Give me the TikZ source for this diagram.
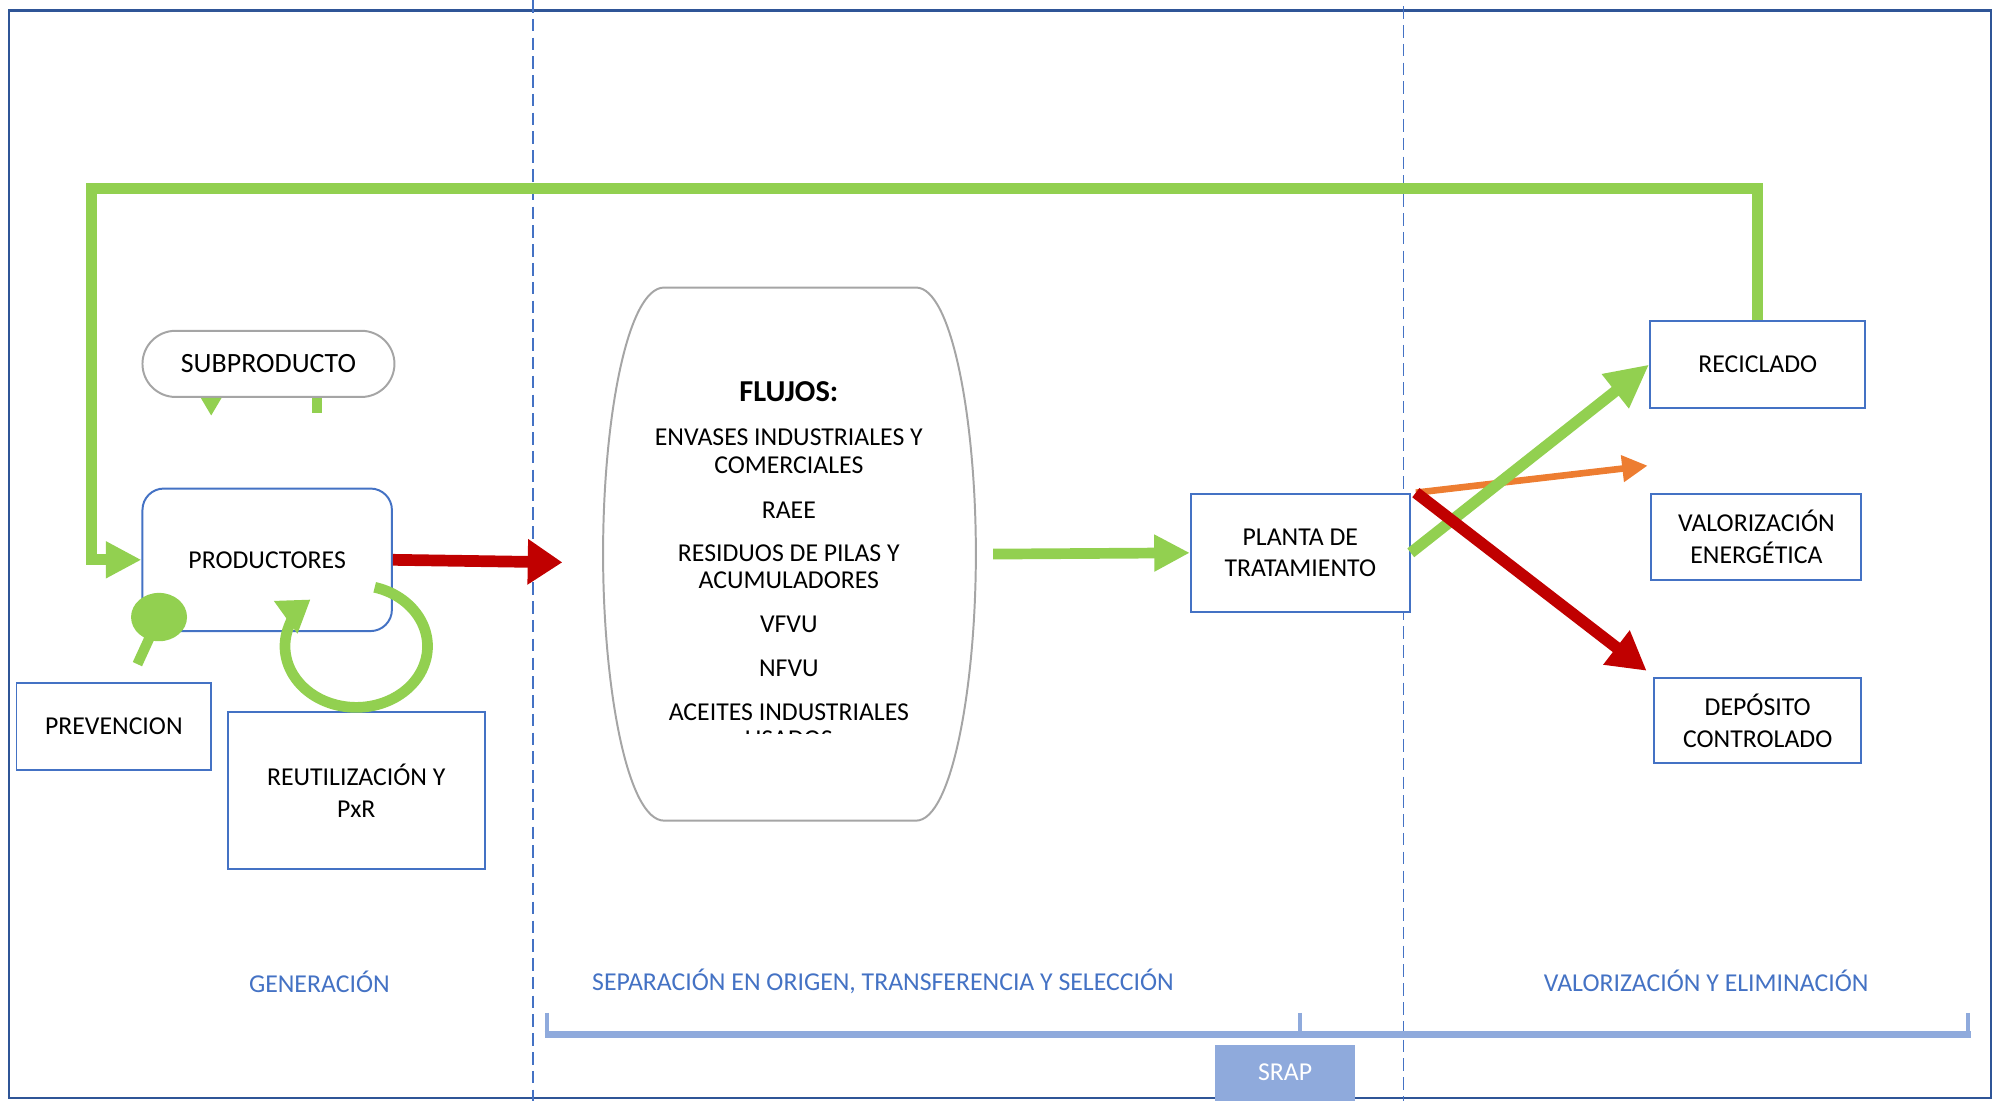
\documentclass[tikz,border=0pt]{standalone}
\usepackage{fontspec}
\setmainfont{Carlito}
\usepackage{xcolor}
\usepackage{tikz}
\usetikzlibrary{arrows.meta,positioning,shapes.misc}
\definecolor{verde}{HTML}{92D050}
\definecolor{rojo}{HTML}{C00000}
\definecolor{naranja}{HTML}{ED7D31}
\definecolor{azul}{HTML}{4472C4}
\definecolor{azulclaro}{HTML}{8FAADC}
\definecolor{marco}{HTML}{2F5597}
\definecolor{gris}{HTML}{A5A5A5}

\begin{document}
\begin{tikzpicture}[x=0.025cm,y=-0.025cm,
    txt/.style={font=\fontsize{14.4}{17.7}\selectfont,align=center,inner sep=0pt},
    caja/.style={txt,draw=azul,line width=1.1pt,fill=white},
    etapa/.style={font=\fontsize{14.4}{17}\selectfont,text=azul},
    flecha/.style={line width=0.21cm,-{Triangle[length=0.7cm,width=0.68cm]}},
    sep/.style={azul,line width=0.8pt,dash pattern=on 7pt off 3.5pt}]
  \useasboundingbox (0,0) rectangle (1568,865);
  \draw[marco,line width=0.9pt] (7,8) rectangle (1565,863);
  \draw[marco,line width=1.8pt] (7,8) -- (1565,8);
  \draw[sep] (419,0) -- (419,865);
  \draw[sep] (1103.3,5) -- (1103.3,865);

  % generacion
  \node[caja,rounded corners=0.42cm,minimum width=4.9cm,minimum height=2.8cm] (prod) at (210,440) {PRODUCTORES};
  \node[txt,font=\fontsize{15.6}{18}\selectfont,draw=gris,line width=1.1pt,fill=white,rounded rectangle,minimum width=4.95cm,minimum height=1.3cm] (sub) at (211,286) {SUBPRODUCTO};
  \node[caja,minimum width=3.825cm,minimum height=1.7cm] (prev) at (89.5,571) {PREVENCION};
  \node[caja,minimum width=5.05cm,minimum height=3.075cm] (reut) at (280,621.5) {REUTILIZACIÓN Y\\PxR};
  \draw[verde,line width=0.2cm,-{Triangle[length=0.35cm,width=0.38cm]}] ([xshift=-1.125cm]sub.south) -- ++(0,14);
  \draw[verde,line width=0.2cm] ([xshift=0.95cm]sub.south) -- ++(0,12);
  \coordinate (pinbase) at (108,522);
  \coordinate (pin) at (125,485);
  \draw[verde,line width=0.2cm] (pinbase) -- (pin);
  \fill[verde] (pin) ellipse [x radius=22, y radius=19];
  \coordinate (bucle) at (280,508);
  \draw[verde,line width=0.21cm,-{Triangle[length=0.6cm,width=0.75cm]}] ([shift={(14.5,-46.4)}]bucle) arc[start angle=-75,end angle=230,x radius=56,y radius=48];
  \coordinate (rojofin) at (442,442);
  \draw[rojo,line width=0.23cm,-{Triangle[length=0.68cm,width=0.85cm]}] (prod.east) -- (rojofin);

  % flujos
  \node[minimum width=7.325cm,minimum height=10.475cm] (flujos) at (620.5,435.5) {};
  \draw[gris,line width=1.1pt,fill=white] (522,226) -- (720,226) .. controls (748,226) and (767,330) .. (767,435)
    .. controls (767,540) and (748,645) .. (720,645) -- (522,645) .. controls (493,645) and (474,540) .. (474,435)
    .. controls (474,330) and (493,226) .. (522,226) -- cycle;
  \node[font=\bfseries\fontsize{17}{20}\selectfont] (fl0) at (620,308) {FLUJOS:};
  \foreach \y/\t [count=\i] in {344/ENVASES INDUSTRIALES Y,366/COMERCIALES,401/RAEE,435/RESIDUOS DE PILAS Y,456/ACUMULADORES,491/VFVU,525/NFVU,560/ACEITES INDUSTRIALES}
    \node[txt] (fl\i) at (620,\y) {\t};
  \begin{scope}
    \clip (474,569) rectangle (767,576.5);
    \node[txt] (fl9) at (620,581) {USADOS};
  \end{scope}

  % tratamiento y destinos
  \node[caja,minimum width=4.3cm,minimum height=2.325cm] (planta) at (1022,434.5) {PLANTA DE\\TRATAMIENTO};
  \node[caja,minimum width=4.225cm,minimum height=1.725cm] (reci) at (1381.5,286.5) {RECICLADO};
  \node[caja,minimum width=4.125cm,minimum height=1.7cm] (valo) at (1380.5,422) {VALORIZACIÓN\\ENERGÉTICA};
  \node[caja,minimum width=4.075cm,minimum height=1.675cm] (depo) at (1381.5,566.5) {DEPÓSITO\\CONTROLADO};
  \draw[verde,flecha] ([xshift=0.33cm]flujos.east) -- (planta.west);
  \coordinate (naranjafin) at (1295,366);
  \draw[naranja,line width=0.13cm,-{Triangle[length=0.5cm,width=0.5cm]}] ([xshift=0.1cm]planta.north east) -- (naranjafin);
  \draw[verde,line width=0.22cm,-{Triangle[length=0.85cm,width=0.8cm]}] (planta.east) -- (reci.west);
  \draw[rojo,line width=0.23cm,-{Triangle[length=0.75cm,width=0.8cm]}] ([xshift=0.1cm]planta.north east) -- ([shift={(-5,-5)}]depo.north west);
  \draw[verde,flecha,line join=miter] (reci.north) |- (72,148) |- (prod.west);

  % etapas
  \node[etapa] (gen) at (251,772) {GENERACIÓN};
  \node[etapa] (separa) at (694,771) {SEPARACIÓN EN ORIGEN, TRANSFERENCIA Y SELECCIÓN};
  \node[etapa] (valel) at (1341,771) {VALORIZACIÓN Y ELIMINACIÓN};
  \draw[azulclaro,line width=0.15cm] (428,813) -- (1549,813);
  \foreach \x in {430,1022,1547} \draw[azulclaro,line width=0.075cm] (\x,796) -- (\x,813);
  \node[txt,fill=azulclaro,text=white,minimum width=2.75cm,minimum height=1.1cm] (srap) at (1010,843) {SRAP};
\end{tikzpicture}
\end{document}
